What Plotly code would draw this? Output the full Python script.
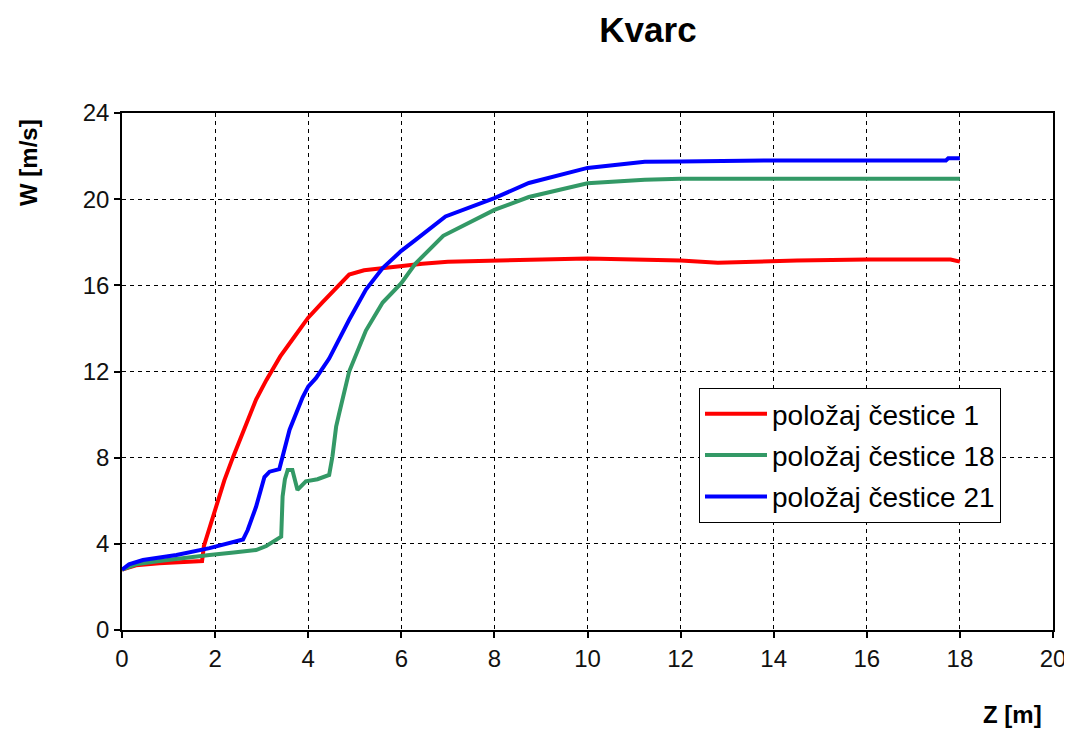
import plotly.graph_objects as go

# ---- data ----
names = ["položaj čestice 1", "položaj čestice 18", "položaj čestice 21"]

x_p1 = [0, 0.3, 0.8, 1.3, 1.72, 1.76, 2.03, 2.2, 2.38, 2.67, 2.88, 3.1, 3.4, 3.7, 4.0,
        4.3, 4.6, 4.88, 5.2, 5.6, 6.0, 6.45, 7.0, 8.0, 9.0, 10.0, 11.0, 12.0, 12.8,
        13.5, 14.5, 16.0, 17.0, 17.8, 18.0]
y_p1 = [2.8, 3.0, 3.1, 3.15, 3.2, 3.9, 5.7, 6.96, 8.0, 9.6, 10.7, 11.6, 12.7, 13.6, 14.5,
        15.2, 15.9, 16.5, 16.7, 16.8, 16.9, 17.0, 17.1, 17.15, 17.2, 17.25, 17.2, 17.15, 17.05,
        17.1, 17.15, 17.2, 17.2, 17.2, 17.1]

x_p18 = [0, 0.3, 0.8, 1.3, 1.88, 2.4, 2.88, 3.1, 3.42, 3.45, 3.5, 3.56, 3.66, 3.77, 3.95,
         4.2, 4.45, 4.52, 4.6, 4.67, 4.88, 5.24, 5.6, 6.0, 6.3, 6.9, 8.0, 8.74, 10.0,
         11.23, 12.0, 14.0, 16.0, 18.0]
y_p18 = [2.8, 3.05, 3.2, 3.35, 3.48, 3.6, 3.71, 3.9, 4.33, 6.2, 7.0, 7.43, 7.43, 6.5, 6.9,
         7.0, 7.2, 8.05, 9.44, 10.1, 12.0, 13.9, 15.2, 16.1, 17.0, 18.3, 19.5, 20.1, 20.74,
         20.9, 20.95, 20.95, 20.95, 20.95]

x_p21 = [0, 0.15, 0.45, 1.17, 1.88, 2.6, 2.7, 2.88, 3.06, 3.17, 3.38, 3.45, 3.6, 3.88, 4.0,
         4.17, 4.45, 4.88, 5.24, 5.6, 6.0, 6.3, 6.95, 8.0, 8.74, 10.0, 11.23, 12.0, 14.0,
         16.0, 17.7, 17.75, 18.0]
y_p21 = [2.8, 3.05, 3.25, 3.48, 3.8, 4.2, 4.64, 5.72, 7.1, 7.35, 7.47, 8.05, 9.3, 10.8, 11.3,
         11.7, 12.6, 14.4, 15.8, 16.8, 17.6, 18.1, 19.2, 20.05, 20.75, 21.45, 21.74, 21.75, 21.8,
         21.8, 21.8, 21.9, 21.9]

x_ticks = [0, 2, 4, 6, 8, 10, 12, 14, 16, 18, 20]
y_ticks = [0, 4, 8, 12, 16, 20, 24]

colors = ["#FF0000", "#339966", "#0000FF"]

FONT = "Liberation Sans, Arial, sans-serif"
NARROW = "Liberation Sans Narrow, Arial Narrow, Liberation Sans, Arial, sans-serif"

# page body has an 8px default margin: figure starts at screen (8, 8)
W, H, OFF = 1064, 724, 8

fig = go.Figure()
for nm, xs, ys, c in zip(names, [x_p1, x_p18, x_p21], [y_p1, y_p18, y_p21], colors):
    fig.add_trace(go.Scatter(x=xs, y=ys, mode="lines", name=nm, legendgroup=nm,
                             line=dict(color=c, width=4)))

axis_common = dict(
    showline=True, linecolor="black", linewidth=1.5, mirror=True,
    ticks="outside", ticklen=6, tickcolor="black", tickwidth=1.5,
    showgrid=True, gridcolor="black", gridwidth=1.2, griddash="4px,4px",
    zeroline=False, automargin=False,
    tickfont=dict(family=NARROW, size=24, color="#111111"),
)

fig.update_xaxes(range=[0, 20], tickvals=x_ticks, **axis_common)
fig.update_yaxes(range=[0, 24], tickvals=y_ticks, **axis_common)

fig.update_layout(
    width=W, height=H,
    margin=dict(l=122 - OFF, r=W - (1053 - OFF), t=113 - OFF, b=H - (630 - OFF)),
    paper_bgcolor="white", plot_bgcolor="white",
    title=dict(text="<b>Kvarc</b>", x=(648 - OFF) / W, xref="container", xanchor="center",
               y=1 - (30 - OFF) / H, yref="container", yanchor="middle",
               font=dict(family=FONT, size=35, color="black")),
    legend=dict(x=(699 - 122) / 931, y=(630 - 388) / 517, xanchor="left", yanchor="top",
                bgcolor="white", bordercolor="black", borderwidth=1,
                font=dict(family=FONT, size=28, color="black"),
                tracegroupgap=2, itemwidth=62),
    showlegend=True,
    annotations=[
        dict(text="<b>W [m/s]</b>", xref="paper", yref="paper",
             x=(28 - 122) / 931, y=(630 - 163) / 517, textangle=-90,
             showarrow=False, xanchor="center", yanchor="middle",
             font=dict(family=FONT, size=24, color="black")),
        dict(text="<b>Z [m]</b>", xref="paper", yref="paper",
             x=(1012 - 122) / 931, y=(630 - 714) / 517,
             showarrow=False, xanchor="center", yanchor="middle",
             font=dict(family=FONT, size=24, color="black")),
    ],
)

fig.write_html("out.html")
